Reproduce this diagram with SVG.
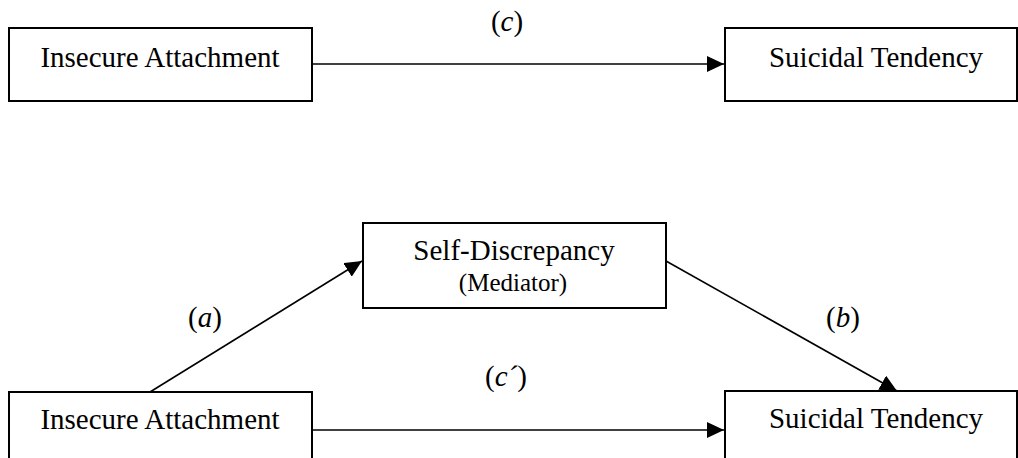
<svg xmlns="http://www.w3.org/2000/svg" width="1018" height="458" viewBox="0 0 1018 458">
<style>
.box{fill:#fff;stroke:#000;stroke-width:2}
.t{font-family:"Liberation Serif","Times New Roman",serif;font-size:29px;fill:#000;text-anchor:middle}
.s{font-size:25px}
.edge{stroke:#000;stroke-width:1.6;fill:none;marker-end:url(#ah)}
</style>
<defs>
<marker id="ah" markerUnits="userSpaceOnUse" markerWidth="18" markerHeight="16" refX="17" refY="8" orient="auto">
<path d="M0,0 L17,8 L0,16 Z" fill="#000"/>
</marker>
</defs>
<rect width="1018" height="458" fill="#fff"/>
<g id="connectors">
<line class="edge" x1="313" y1="64" x2="724" y2="64"/>
<line class="edge" x1="150" y1="392" x2="362" y2="261"/>
<line class="edge" x1="666" y1="261" x2="897" y2="391"/>
<line class="edge" x1="313" y1="430" x2="724" y2="430"/>
<text class="t" x="507" y="31">(<tspan font-style="italic">c</tspan>)</text>
<text class="t" x="205" y="327">(<tspan font-style="italic">a</tspan>)</text>
<text class="t" x="843" y="327">(<tspan font-style="italic">b</tspan>)</text>
<text class="t" x="506" y="386">(<tspan font-style="italic">c´</tspan>)</text>
</g>
<g id="n-insecure-top">
<rect class="box" x="9" y="28" width="303" height="73"/>
<text class="t" x="160" y="67">Insecure Attachment</text>
</g>
<g id="n-suicidal-top">
<rect class="box" x="725" y="28" width="292" height="73"/>
<text class="t" x="876" y="67">Suicidal Tendency</text>
</g>
<g id="n-mediator">
<rect class="box" x="363" y="223" width="303" height="85"/>
<text class="t" x="514" y="260">Self-Discrepancy</text>
<text class="t s" x="513" y="291">(Mediator)</text>
</g>
<g id="n-insecure-bottom">
<rect class="box" x="9" y="392" width="303" height="80"/>
<text class="t" x="160" y="429">Insecure Attachment</text>
</g>
<g id="n-suicidal-bottom">
<rect class="box" x="725" y="391" width="292" height="80"/>
<text class="t" x="876" y="428">Suicidal Tendency</text>
</g>
</svg>
